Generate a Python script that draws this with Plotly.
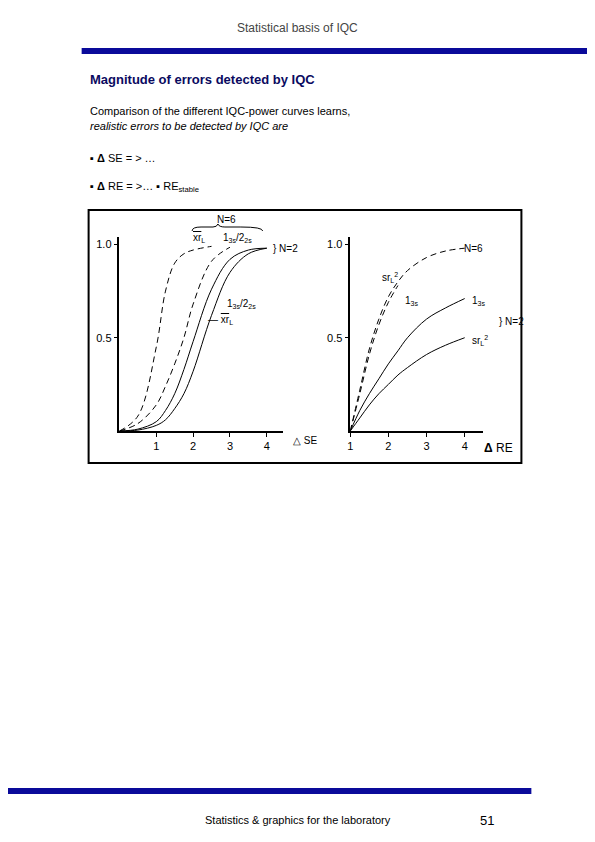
import plotly.graph_objects as go

W, H = 595, 842
OX, OY = 9, 8  # page body margin in the browser

# left panel: power vs systematic error (delta SE)
se_x = [0, 0.5, 1, 1.25, 1.5, 1.75, 2, 2.5, 3, 3.5, 4]
se_xrl6 = [0, 0.08, 0.45, 0.75, 0.9, 0.95, 0.97, 0.99, None, None, None]
se_132s6 = [0, 0.04, 0.14, 0.24, 0.36, 0.5, 0.68, 0.91, 0.985, None, None]
se_132s2 = [0, 0.01, 0.05, 0.11, 0.2, 0.33, 0.48, 0.76, 0.92, 0.97, 0.98]
se_xrl2 = [0, 0.005, 0.03, 0.06, 0.12, 0.2, 0.32, 0.62, 0.85, 0.95, 0.98]

# right panel: power vs random error (delta RE)
re_x = [1, 1.25, 1.5, 1.75, 2, 2.25, 2.5, 3, 3.5, 4]
re_srl6 = [0, 0.22, 0.44, 0.6, 0.72, 0.8, 0.86, 0.93, 0.965, 0.98]
re_13s6 = [0, 0.2, 0.41, 0.57, 0.69, 0.78, None, None, None, None]
re_13s2 = [0, 0.11, 0.2, 0.28, 0.36, 0.43, 0.5, 0.6, 0.66, 0.71]
re_srl2 = [0, 0.07, 0.14, 0.2, 0.25, 0.3, 0.34, 0.41, 0.46, 0.5]


def px(x):
    return (x - OX) / W


def py(y):
    return 1 - (y - OY) / H


fig = go.Figure()
line = dict(color="black", width=1)
dash = dict(color="black", width=1, dash="6px,4px")
for ys, st in [(se_xrl6, dash), (se_132s6, dash), (se_132s2, line), (se_xrl2, line)]:
    fig.add_trace(go.Scatter(x=se_x, y=ys, mode="lines", line=st, line_shape="spline",
                             xaxis="x", yaxis="y", showlegend=False))
for ys, st in [(re_srl6, dash), (re_13s6, dash), (re_13s2, line), (re_srl2, line)]:
    fig.add_trace(go.Scatter(x=re_x, y=ys, mode="lines", line=st, line_shape="spline",
                             xaxis="x2", yaxis="y2", showlegend=False))

ax = dict(showgrid=False, zeroline=False, showline=True, linecolor="black", linewidth=1.5,
          ticks="outside", ticklen=4, tickcolor="black",
          tickfont=dict(family="Arial", size=11, color="black"))
ydom = [py(431), py(237)]
fig.update_layout(
    width=W, height=H, margin=dict(l=0, r=0, t=0, b=0),
    paper_bgcolor="white", plot_bgcolor="white",
    xaxis=dict(ax, domain=[px(118), px(282)], range=[0, 4.43], tickvals=[1, 2, 3, 4]),
    yaxis=dict(ax, domain=ydom, range=[0, 1.04], tickvals=[0.5, 1.0], ticktext=["0.5", "1.0"]),
    xaxis2=dict(ax, domain=[px(350), px(483)], range=[1, 4.47], tickvals=[1, 2, 3, 4], anchor="y2"),
    yaxis2=dict(ax, domain=ydom, range=[0, 1.04], tickvals=[0.5, 1.0], ticktext=["0.5", "1.0"], anchor="x2"),
)

shapes = [
    dict(type="rect", xref="paper", yref="paper", x0=px(80), x1=px(604), y0=py(48), y1=py(54),
         fillcolor="#0a0a9a", line=dict(width=0)),
    dict(type="rect", xref="paper", yref="paper", x0=px(0), x1=px(532), y0=py(788), y1=py(794),
         fillcolor="#0a0a9a", line=dict(width=0)),
    dict(type="rect", xref="paper", yref="paper", x0=px(87), x1=px(522), y0=py(210), y1=py(463),
         line=dict(color="black", width=2)),
    # brace over the N=6 labels
    dict(type="path", xref="paper", yref="paper", line=dict(color="black", width=1),
         path=f"M {px(191)} {py(231)} Q {px(191)} {py(227)} {px(200)} {py(227)} "
              f"L {px(212)} {py(227)} Q {px(216)} {py(227)} {px(217)} {py(224)} "
              f"Q {px(218)} {py(227)} {px(224)} {py(227)} L {px(240)} {py(227)} "
              f"Q {px(262)} {py(227)} {px(262)} {py(231)}"),
]
fig.update_layout(shapes=shapes)


def note(x, y, t, size=11, color="black", anchor="left", bold=False, italic=False):
    fig.add_annotation(x=px(x), y=py(y), xref="paper", yref="paper", text=t, showarrow=False,
                       xanchor=anchor, yanchor="middle",
                       font=dict(family="Arial", size=size, color=color,
                                 weight="bold" if bold else "normal",
                                 style="italic" if italic else "normal"))


note(297, 28, "Statistical basis of IQC", 12, "#444", "center")
note(86, 80, "Magnitude of errors detected by IQC", 13, "#0a0a60", bold=True)
note(86, 111, "Comparison of the different IQC-power curves learns,", 11)
note(86, 126, "realistic errors to be detected by IQC are", 11, italic=True)
note(86, 158, "▪ <b>Δ</b> SE = > …", 11)
note(86, 187, "▪ <b>Δ</b> RE = >… ▪ RE<sub>stable</sub>", 11)
note(297, 820, "Statistics & graphics for the laboratory", 11, anchor="center")
note(487, 820, "51", 13, anchor="center")

# figure labels
note(226, 219, "N=6", 10, anchor="center")
note(190, 238, "<span style='text-decoration:overline'>xr</span><sub>L</sub>", 10)
note(220, 238, "1<sub>3s</sub>/2<sub>2s</sub>", 10)
note(270, 248, "} N=2", 10)
note(224, 304, "1<sub>3s</sub>/2<sub>2s</sub>", 10)
note(205, 320, "— <span style='text-decoration:overline'>xr</span><sub>L</sub>", 10)
note(290, 440, "△ SE", 10)
note(462, 248, "N=6", 10)
note(380, 278, "sr<sub>L</sub><sup>2</sup>", 10)
note(403, 301, "1<sub>3s</sub>", 10)
note(470, 301, "1<sub>3s</sub>", 10)
note(497, 321, "} N=2", 10)
note(470, 340, "sr<sub>L</sub><sup>2</sup>", 10)
note(482, 448, "<b>Δ</b> RE", 12)

fig.write_html("out.html")
